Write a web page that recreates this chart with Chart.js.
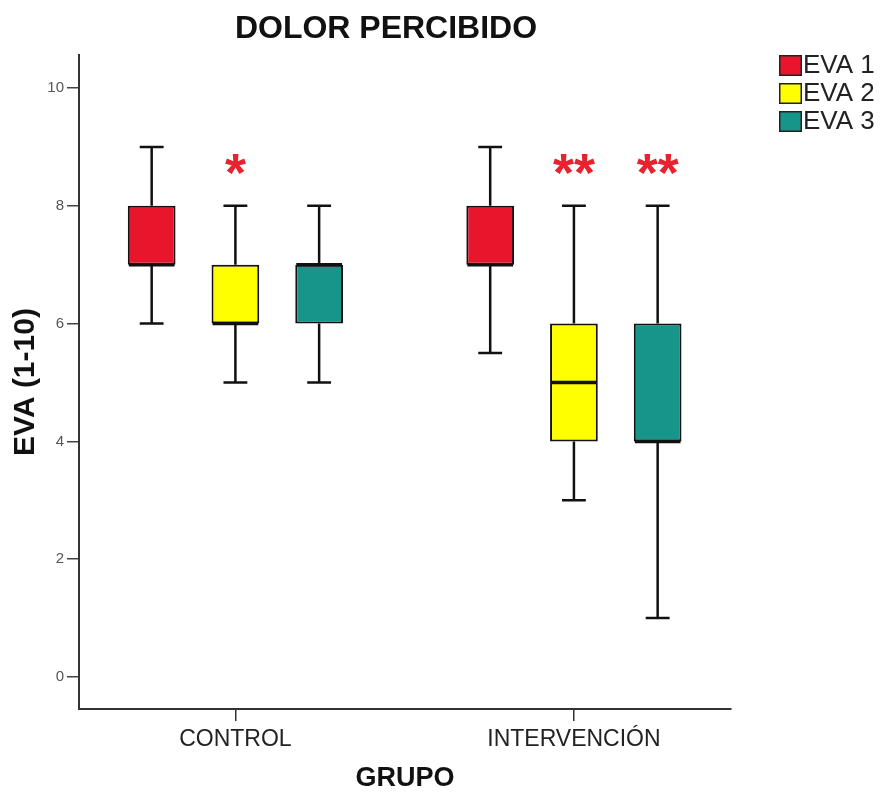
<!DOCTYPE html>
<html>
<head>
<meta charset="utf-8">
<script src="https://cdn.jsdelivr.net/npm/chart.js@4/dist/chart.umd.min.js"></script>
<style>
  html, body { margin: 0; padding: 0; background: #ffffff; }
  #wrap { width: 882px; height: 795px; position: relative; }
</style>
</head>
<body>
<div id="wrap"><canvas id="chart"></canvas></div>
<script>
// Groups on the x axis and the three pain measurements
const groups = ['CONTROL', 'INTERVENCIÓN'];
const series = ['EVA 1', 'EVA 2', 'EVA 3'];
const seriesColors = ['#E8162C', '#FFFF00', '#17958A'];

// Box plot statistics, one row per series, one value per group
const lowWhisker  = [[6, 5.5], [5, 3], [5, 1]];
const quartile1   = [[7, 7],   [6, 4], [6, 4]];
const medians     = [[7, 7],   [6, 5], [7, 4]];
const quartile3   = [[8, 8],   [7, 6], [7, 6]];
const highWhisker = [[9, 9],   [8, 8], [8, 8]];

// Significance marks printed above each box
const significance = [['', ''], ['*', '**'], ['', '**']];

const yTicks = [0, 2, 4, 6, 8, 10];

const FONT = "'Liberation Sans', Arial, Helvetica, sans-serif";

const datasets = series.map((name, s) => ({
  label: name,
  data: groups.map((g, i) => ({ x: i, y: [quartile1[s][i], quartile3[s][i]] })),
  backgroundColor: seriesColors[s],
  borderColor: '#111111',
  borderWidth: 2,
  borderSkipped: false,
  categoryPercentage: 0.742,
  barPercentage: 0.57
}));

// Whiskers (under the boxes), medians and significance marks (over them)
const boxPlotPlugin = {
  id: 'boxPlot',
  beforeDatasetsDraw(chart) {
    const ctx = chart.ctx;
    const y = chart.scales.y;
    ctx.save();
    ctx.strokeStyle = '#111111';
    ctx.lineWidth = 2.5;
    chart.data.datasets.forEach((ds, s) => {
      chart.getDatasetMeta(s).data.forEach((bar, i) => {
        const cx = bar.x;
        const half = bar.width / 4;
        const yLo = y.getPixelForValue(lowWhisker[s][i]);
        const yHi = y.getPixelForValue(highWhisker[s][i]);
        const yQ1 = y.getPixelForValue(quartile1[s][i]);
        const yQ3 = y.getPixelForValue(quartile3[s][i]);
        ctx.beginPath();
        ctx.moveTo(cx, yHi); ctx.lineTo(cx, yQ3);
        ctx.moveTo(cx, yQ1); ctx.lineTo(cx, yLo);
        ctx.moveTo(cx - half, yHi); ctx.lineTo(cx + half, yHi);
        ctx.moveTo(cx - half, yLo); ctx.lineTo(cx + half, yLo);
        ctx.stroke();
      });
    });
    ctx.restore();
  },
  afterDatasetsDraw(chart) {
    const ctx = chart.ctx;
    const y = chart.scales.y;
    const markLevel = 8.7;
    ctx.save();
    chart.data.datasets.forEach((ds, s) => {
      chart.getDatasetMeta(s).data.forEach((bar, i) => {
        const half = bar.width / 2;
        const ym = y.getPixelForValue(medians[s][i]);
        ctx.strokeStyle = '#111111';
        ctx.lineWidth = 3.5;
        ctx.beginPath();
        ctx.moveTo(bar.x - half + 1, ym);
        ctx.lineTo(bar.x + half - 1, ym);
        ctx.stroke();

        const mark = significance[s][i];
        if (mark) {
          ctx.font = 'bold 54px ' + FONT;
          ctx.fillStyle = '#E8222E';
          ctx.textAlign = 'center';
          ctx.textBaseline = 'alphabetic';
          const m = ctx.measureText(mark);
          const inkMid = (m.actualBoundingBoxAscent - m.actualBoundingBoxDescent) / 2;
          ctx.fillText(mark, bar.x, y.getPixelForValue(markLevel) + inkMid);
        }
      });
    });
    ctx.restore();
  },
  afterDraw(chart) {
    const ctx = chart.ctx;
    ctx.save();
    // Chart heading
    ctx.font = 'bold 32px ' + FONT;
    ctx.fillStyle = '#111111';
    ctx.textAlign = 'center';
    ctx.textBaseline = 'middle';
    ctx.fillText('DOLOR PERCIBIDO', 386, 29);

    // Legend in the right margin
    const left = chart.chartArea.right + 48;
    const top = chart.chartArea.top;
    ctx.font = '26px ' + FONT;
    ctx.textAlign = 'left';
    chart.data.datasets.forEach((ds, s) => {
      const rowTop = top + s * 28;
      ctx.fillStyle = ds.backgroundColor;
      ctx.fillRect(left, rowTop, 23, 21);
      ctx.strokeStyle = '#222222';
      ctx.lineWidth = 1.5;
      ctx.strokeRect(left + 0.75, rowTop + 0.75, 21.5, 19.5);
      ctx.fillStyle = '#222222';
      ctx.fillText(ds.label, left + 24, rowTop + 11);
    });
    ctx.restore();
  }
};

new Chart(document.getElementById('chart'), {
  type: 'bar',
  data: { datasets },
  options: {
    responsive: true,
    maintainAspectRatio: false,
    animation: false,
    layout: { padding: { top: 55, right: 151, left: 0, bottom: 0 } },
    plugins: {
      legend: { display: false },
      title: { display: false },
      tooltip: { enabled: false }
    },
    scales: {
      x: {
        type: 'linear',
        offset: false,
        min: -0.462,
        max: 1.464,
        afterBuildTicks: (scale) => { scale.ticks = groups.map((g, i) => ({ value: i })); },
        afterFit: (scale) => { scale.height = 86; },
        ticks: {
          callback: (v) => groups[v],
          font: { family: FONT, size: 23 },
          color: '#222222',
          padding: 5,
          maxRotation: 0,
          autoSkip: false
        },
        grid: { offset: false, drawOnChartArea: false, drawTicks: true, tickLength: 12, color: '#333333', lineWidth: 1.5 },
        border: { display: true, color: '#333333', width: 2 },
        title: {
          display: true,
          text: 'GRUPO',
          font: { family: FONT, size: 27, weight: 'bold' },
          color: '#111111',
          padding: { top: 0, bottom: 0 }
        }
      },
      y: {
        type: 'linear',
        min: -0.543,
        max: 10.56,
        afterBuildTicks: (scale) => { scale.ticks = yTicks.map(v => ({ value: v })); },
        afterFit: (scale) => { scale.width = 79; },
        ticks: {
          font: { family: FONT, size: 15 },
          color: '#555555',
          padding: 3
        },
        grid: { drawOnChartArea: false, drawTicks: true, tickLength: 12, color: '#444444', lineWidth: 1.5 },
        border: { display: true, color: '#333333', width: 2 },
        title: {
          display: true,
          text: 'EVA (1-10)',
          font: { family: FONT, size: 30, weight: 'bold' },
          color: '#111111',
          padding: { top: 8, bottom: 0 }
        }
      }
    }
  },
  plugins: [boxPlotPlugin]
});
</script>
</body>
</html>
